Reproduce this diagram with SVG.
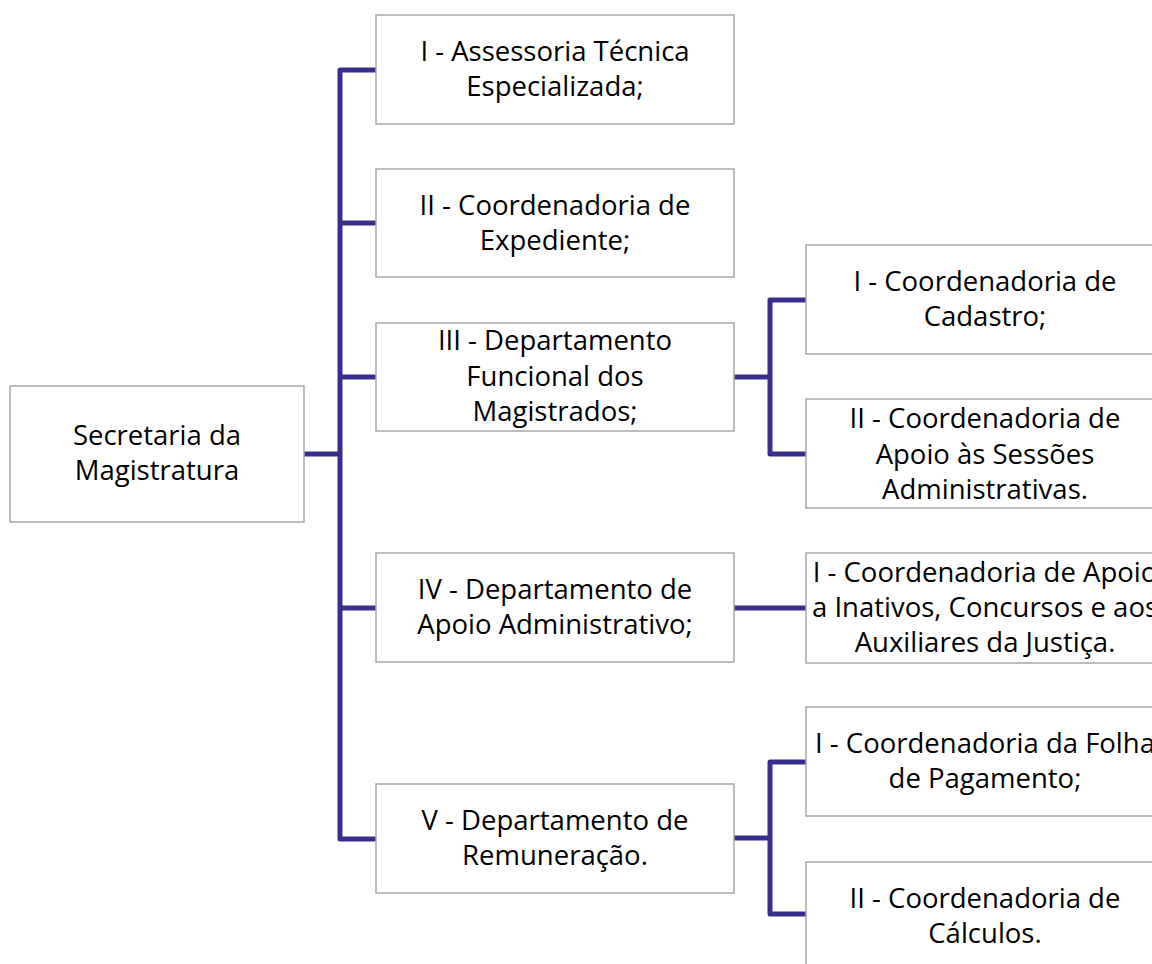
<svg xmlns="http://www.w3.org/2000/svg" width="1152" height="964" viewBox="0 0 1152 964">
  <style>
    .box { fill: #ffffff; stroke: #a6a6a6; stroke-width: 1.5; }
    .lbl { font-family: "Open Sans", "Noto Sans", "Liberation Sans", sans-serif; font-size: 27.5px; fill: #000000; text-anchor: middle; }
    .wire { fill: none; stroke: #382e8e; stroke-width: 5; stroke-linejoin: round; stroke-linecap: butt; }
  </style>
  <rect width="1152" height="964" fill="#ffffff"/>

  <!-- connectors -->
  <g id="connectors">
    <path class="wire" d="M304 454 H340"/>
    <path class="wire" d="M376 70 H340 V839 H376"/>
    <path class="wire" d="M340 223 H376"/>
    <path class="wire" d="M340 377 H376"/>
    <path class="wire" d="M340 608 H376"/>
    <path class="wire" d="M734 377 H770"/>
    <path class="wire" d="M806 300 H770 V454 H806"/>
    <path class="wire" d="M734 608 H806"/>
    <path class="wire" d="M734 838 H770"/>
    <path class="wire" d="M806 762 H770 V914 H806"/>
  </g>

  <!-- root -->
  <g id="secretaria">
    <rect class="box" x="10" y="386" width="294" height="136"/>
    <text class="lbl" x="157" y="445">Secretaria da</text>
    <text class="lbl" x="157" y="480">Magistratura</text>
  </g>

  <!-- first level -->
  <g id="assessoria">
    <rect class="box" x="376" y="15" width="358" height="109"/>
    <text class="lbl" x="555" y="61">I - Assessoria Técnica</text>
    <text class="lbl" x="555" y="96">Especializada;</text>
  </g>
  <g id="expediente">
    <rect class="box" x="376" y="169" width="358" height="108"/>
    <text class="lbl" x="555" y="215">II - Coordenadoria de</text>
    <text class="lbl" x="555" y="250">Expediente;</text>
  </g>
  <g id="funcional">
    <rect class="box" x="376" y="323" width="358" height="108"/>
    <text class="lbl" x="555" y="350">III - Departamento</text>
    <text class="lbl" x="555" y="386">Funcional dos</text>
    <text class="lbl" x="555" y="421">Magistrados;</text>
  </g>
  <g id="administrativo">
    <rect class="box" x="376" y="553" width="358" height="109"/>
    <text class="lbl" x="555" y="599">IV - Departamento de</text>
    <text class="lbl" x="555" y="634">Apoio Administrativo;</text>
  </g>
  <g id="remuneracao">
    <rect class="box" x="376" y="784" width="358" height="109"/>
    <text class="lbl" x="555" y="830">V - Departamento de</text>
    <text class="lbl" x="555" y="865">Remuneração.</text>
  </g>

  <!-- second level -->
  <g id="cadastro">
    <rect class="box" x="806" y="245" width="358" height="109"/>
    <text class="lbl" x="985" y="291">I - Coordenadoria de</text>
    <text class="lbl" x="985" y="326">Cadastro;</text>
  </g>
  <g id="sessoes">
    <rect class="box" x="806" y="399" width="358" height="109"/>
    <text class="lbl" x="985" y="428">II - Coordenadoria de</text>
    <text class="lbl" x="985" y="464">Apoio às Sessões</text>
    <text class="lbl" x="985" y="499">Administrativas.</text>
  </g>
  <g id="inativos">
    <rect class="box" x="806" y="553" width="358" height="110"/>
    <text class="lbl" x="985" y="582">I - Coordenadoria de Apoio</text>
    <text class="lbl" x="985" y="617">a Inativos, Concursos e aos</text>
    <text class="lbl" x="985" y="652">Auxiliares da Justiça.</text>
  </g>
  <g id="folha">
    <rect class="box" x="806" y="707" width="358" height="109"/>
    <text class="lbl" x="985" y="753">I - Coordenadoria da Folha</text>
    <text class="lbl" x="985" y="788">de Pagamento;</text>
  </g>
  <g id="calculos">
    <rect class="box" x="806" y="862" width="358" height="109"/>
    <text class="lbl" x="985" y="908">II - Coordenadoria de</text>
    <text class="lbl" x="985" y="943">Cálculos.</text>
  </g>
</svg>
